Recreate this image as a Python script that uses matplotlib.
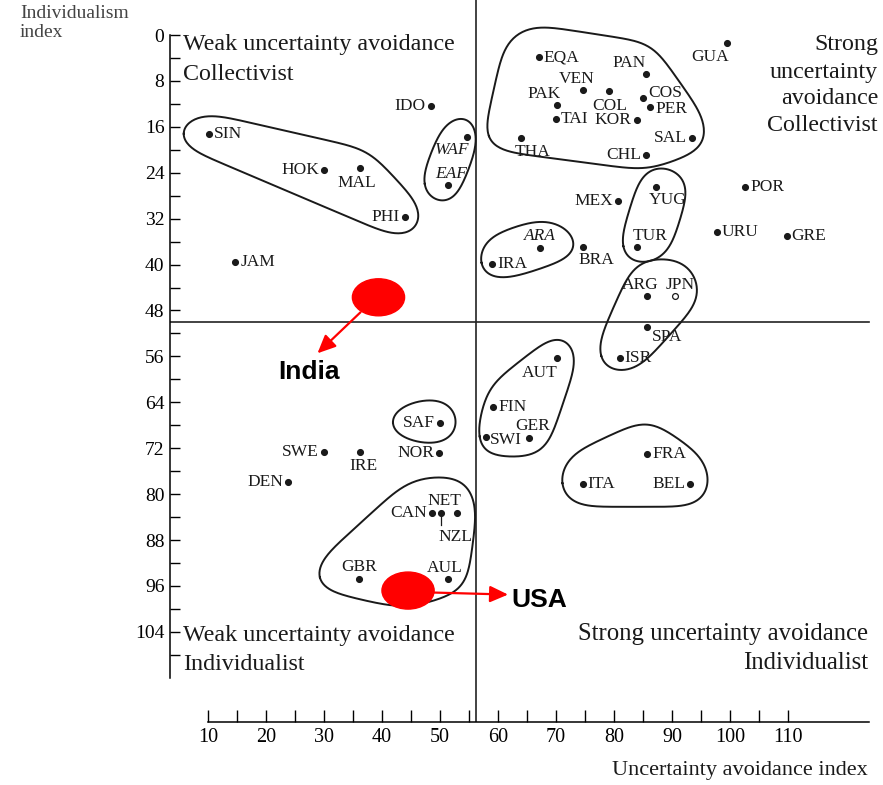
import numpy as np
import matplotlib.pyplot as plt
from matplotlib.patches import Ellipse

plt.rcParams['font.family'] = ['Liberation Serif', 'DejaVu Serif']

# country codes with uncertainty avoidance (x) and individualism (y)
countries = ['SIN', 'HOK', 'MAL', 'PHI', 'JAM', 'IDO', 'WAF', 'EAF',
             'EQA', 'PAN', 'VEN', 'COL', 'PAK', 'COS', 'PER', 'TAI', 'KOR', 'THA',
             'SAL', 'CHL', 'GUA', 'MEX', 'YUG', 'POR', 'TUR', 'URU', 'GRE', 'BRA',
             'ARA', 'IRA', 'ARG', 'JPN', 'SPA', 'ISR', 'AUT', 'FIN', 'SWI', 'GER',
             'FRA', 'ITA', 'BEL', 'SAF', 'SWE', 'IRE', 'NOR', 'DEN', 'CAN', 'NZL',
             'NET', 'GBR', 'AUL', 'USA']
uai = [10.2, 30.0, 36.2, 44.0, 14.7, 48.4, 54.6, 51.4,
       67.0, 85.6, 74.6, 79.2, 70.1, 85.1, 86.3, 70.0, 83.9, 63.9,
       93.4, 85.6, 99.5, 80.7, 87.2, 102.6, 84.0, 97.7, 109.8, 74.7,
       67.2, 59.0, 85.7, 90.5, 85.7, 81.0, 70.1, 59.2, 57.9, 65.4,
       85.7, 74.6, 93.1, 50.0, 30.0, 36.2, 49.9, 23.8, 48.6, 50.2,
       52.9, 36.0, 51.4, 44.5]
idv = [17.2, 23.5, 23.2, 31.7, 39.5, 12.4, 17.8, 26.1,
       3.9, 6.8, 9.5, 9.7, 12.2, 11.0, 12.6, 14.6, 14.8, 18.0,
       18.0, 20.9, 1.4, 29.0, 26.4, 26.5, 37.0, 34.4, 35.0, 37.0,
       37.1, 39.9, 45.5, 45.5, 50.8, 56.2, 56.2, 64.8, 70.1, 70.3,
       73.0, 78.2, 78.2, 67.6, 72.6, 72.6, 72.8, 77.8, 83.2, 83.2,
       83.2, 94.8, 94.7, 96.8]

clusters = [
    ['SIN', 'HOK', 'MAL', 'PHI'],
    ['WAF', 'EAF'],
    ['EQA', 'PAN', 'VEN', 'COL', 'PAK', 'COS', 'PER', 'TAI', 'KOR', 'THA', 'SAL', 'CHL'],
    ['YUG', 'TUR'],
    ['ARA', 'IRA'],
    ['ARG', 'JPN', 'SPA', 'ISR'],
    ['AUT', 'FIN', 'SWI', 'GER'],
    ['FRA', 'ITA', 'BEL'],
    ['SAF'],
    ['CAN', 'NZL', 'NET', 'GBR', 'AUL', 'USA'],
]

highlight = ['India', 'USA']
hl_uai = [39.4, 44.5]
hl_idv = [45.7, 96.8]

uai_split = 56.2
idv_split = 50.0

# label offsets in pixels (dx, dy down) and alignment
place = {
    'SIN': (5, 0, 'left'), 'HOK': (-5, 0, 'right'), 'MAL': (-3, 15, 'center'),
    'PHI': (-5, 0, 'right'), 'JAM': (5, 0, 'left'), 'IDO': (-5, 0, 'right'),
    'WAF': (-15, 13, 'center'), 'EAF': (3, -11, 'center'), 'EQA': (5, 0, 'left'),
    'PAN': (-17, -11, 'center'), 'VEN': (-6, -11, 'center'), 'COL': (0, 15, 'center'),
    'PAK': (-12, -11, 'center'), 'COS': (5, -5, 'left'), 'PER': (5, 2, 'left'),
    'TAI': (5, 0, 'left'), 'KOR': (-5, 0, 'right'), 'THA': (12, 14, 'center'),
    'SAL': (-5, 0, 'right'), 'CHL': (-5, 0, 'right'), 'GUA': (-17, 14, 'center'),
    'MEX': (-5, 0, 'right'), 'YUG': (12, 13, 'center'), 'POR': (5, 0, 'left'),
    'TUR': (13, -11, 'center'), 'URU': (5, 0, 'left'), 'GRE': (5, 0, 'left'),
    'BRA': (13, 13, 'center'), 'ARA': (0, -12, 'center'), 'IRA': (5, 0, 'left'),
    'ARG': (-7, -11, 'center'), 'JPN': (5, -11, 'center'), 'SPA': (20, 10, 'center'),
    'ISR': (5, 0, 'left'), 'AUT': (-17, 15, 'center'), 'FIN': (5, 0, 'left'),
    'SWI': (4, 3, 'left'), 'GER': (3, -12, 'center'), 'FRA': (5, 0, 'left'),
    'ITA': (5, 0, 'left'), 'BEL': (-5, 0, 'right'), 'SAF': (-5, 0, 'right'),
    'SWE': (-5, 0, 'right'), 'IRE': (3, 14, 'center'), 'NOR': (-5, 0, 'right'),
    'DEN': (-5, 0, 'right'), 'CAN': (-5, 0, 'right'), 'NZL': (14, 24, 'center'),
    'NET': (-12, -12, 'center'), 'GBR': (0, -12, 'center'), 'AUL': (-3, -11, 'center'),
}
italic = ['WAF', 'EAF', 'ARA']

# outline padding in pixels: left, right, top, bottom
pads = [(32, 18, 20, 20), (28, 12, 24, 21), (37, 16, 32, 15), (18, 34, 22, 18),
        (15, 40, 29, 16), (23, 26, 38, 16), (9, 21, 24, 19), (24, 21, 34, 23),
        (54, 20, 25, 22), (45, 20, 36, 17)]

W, H = 883, 785
fig = plt.figure(figsize=(W / 100, H / 100), dpi=100)
ax = fig.add_axes([170 / W, 63 / H, 713 / W, 722 / H])
ax.set_xlim(3.45, 126.4)
ax.set_ylim(119.7, -6.1)

for s in ['top', 'right']:
    ax.spines[s].set_visible(False)
ax.spines['left'].set_bounds(0, 112)
ax.spines['bottom'].set_bounds(10, 124)
for s in ['left', 'bottom']:
    ax.spines[s].set_linewidth(1.1)

ax.set_xticks(range(10, 111, 10))
ax.set_xticks(range(15, 110, 10), minor=True)
ax.set_yticks(range(0, 105, 8))
ax.set_yticks(range(4, 109, 8), minor=True)
ax.tick_params(axis='x', which='both', direction='in', length=9, width=1, pad=4, labelsize=14.5)
ax.tick_params(axis='y', which='both', direction='in', length=7, width=1, pad=4, labelsize=14)

ax.axvline(uai_split, color='#222222', lw=1.2)
ax.plot([ax.get_xlim()[0], 124], [idv_split, idv_split], color='#222222', lw=1.2)


def shift(x, y, dx, dy):
    d = ax.transData.transform((x, y)) + np.array([dx, -dy])
    return ax.transData.inverted().transform(d)


def convex_hull(P):
    P = sorted(set(map(tuple, np.round(P, 3))))

    def cross(o, a, b):
        return (a[0] - o[0]) * (b[1] - o[1]) - (a[1] - o[1]) * (b[0] - o[0])
    lower, upper = [], []
    for p in P:
        while len(lower) >= 2 and cross(lower[-2], lower[-1], p) <= 0:
            lower.pop()
        lower.append(p)
    for p in reversed(P):
        while len(upper) >= 2 and cross(upper[-2], upper[-1], p) <= 0:
            upper.pop()
        upper.append(p)
    return np.array(lower[:-1] + upper[:-1])


def smooth_closed(poly, n=300, sigma=16.0):
    closed = np.vstack([poly, poly[:1]])
    seg = np.hypot(*np.diff(closed, axis=0).T)
    cum = np.concatenate([[0], np.cumsum(seg)])
    s = np.linspace(0, cum[-1], n, endpoint=False)
    x = np.interp(s, cum, closed[:, 0])
    y = np.interp(s, cum, closed[:, 1])
    ds = cum[-1] / n
    k = int(3 * sigma / ds) + 1
    w = np.exp(-0.5 * (np.arange(-k, k + 1) * ds / sigma) ** 2)
    w /= w.sum()
    xs = np.array([np.dot(w, np.take(x, np.arange(i - k, i + k + 1), mode='wrap')) for i in range(n)])
    ys = np.array([np.dot(w, np.take(y, np.arange(i - k, i + k + 1), mode='wrap')) for i in range(n)])
    out = np.column_stack([xs, ys])
    return np.vstack([out, out[:1]])


idx = {c: i for i, c in enumerate(countries)}
ang = np.linspace(0, 2 * np.pi, 72, endpoint=False)
for members, (l, r, t, b) in zip(clusters, pads):
    xy = np.array([(uai[idx[m]], idv[idx[m]]) for m in members])
    disp = ax.transData.transform(xy)
    off = np.column_stack([np.where(np.cos(ang) >= 0, r, l) * np.cos(ang),
                           np.where(np.sin(ang) >= 0, t, b) * np.sin(ang)])
    pts = np.concatenate([p + off for p in disp])
    hull = smooth_closed(convex_hull(pts))
    hd = ax.transData.inverted().transform(hull)
    ax.plot(hd[:, 0], hd[:, 1], color='#1a1a1a', lw=1.4, clip_on=False)

for c, x, y in zip(countries, uai, idv):
    face = 'white' if c == 'JPN' else '#1a1a1a'
    ax.plot(x, y, 'o', ms=4.2, mfc=face, mec='#1a1a1a', mew=0.9)
    if c in place:
        dx, dy, ha = place[c]
        ax.annotate(c, (x, y), xytext=(dx * 0.72, -dy * 0.72), textcoords='offset points',
                    ha=ha, va='center', fontsize=12.5, color='#1a1a1a',
                    style='italic' if c in italic else 'normal')

# leader line for NZL
i = idx['NZL']
p2 = shift(uai[i], idv[i], 0, 12)
ax.plot([uai[i], p2[0]], [idv[i], p2[1]], color='#1a1a1a', lw=0.9)

# red highlight ellipses with arrows
arrow_off = {'India': ((-18, 15), (-61, 56)), 'USA': ((26, 2), (100, 4))}
label_off = {'India': (-69, 75, 'center'), 'USA': (103, 9, 'left')}
for name, x, y in zip(highlight, hl_uai, hl_idv):
    ax.add_patch(Ellipse((x, y), 9.0, 6.45, color='#ff0000', zorder=5))
    (sx, sy), (tx, ty) = arrow_off[name]
    start = shift(x, y, sx, sy)
    tip = shift(x, y, tx, ty)
    ax.annotate('', xy=tip, xytext=start, zorder=6,
                arrowprops=dict(arrowstyle='-|>,head_length=0.55,head_width=0.25',
                                mutation_scale=20, color='#ff0000', lw=1.6,
                                shrinkA=0, shrinkB=0))
    lx, ly, ha = label_off[name]
    pos = shift(x, y, lx, ly)
    ax.text(pos[0], pos[1], name, ha=ha, va='center', fontsize=19,
            family='Liberation Sans', weight='bold')


def ftext(x, y, s, ha='left', size=17.3, color='#1a1a1a'):
    fig.text(x / W, 1 - y / H, s, ha=ha, va='baseline', fontsize=size, color=color)


ftext(20, 18, 'Individualism', size=14, color='#444444')
ftext(20, 37, 'index', size=14, color='#444444')

ftext(183, 50, 'Weak uncertainty avoidance')
ftext(183, 80, 'Collectivist')
ftext(878, 50, 'Strong', ha='right')
ftext(878, 78, 'uncertainty', ha='right')
ftext(878, 104, 'avoidance', ha='right')
ftext(878, 131, 'Collectivist', ha='right')
ftext(183, 641, 'Weak uncertainty avoidance')
ftext(183, 670, 'Individualist')
ftext(868, 640, 'Strong uncertainty avoidance', ha='right', size=17.8)
ftext(868, 669, 'Individualist', ha='right', size=17.8)
ftext(868, 775, 'Uncertainty avoidance index', ha='right', size=16)

fig.savefig('out.png', dpi=100)
